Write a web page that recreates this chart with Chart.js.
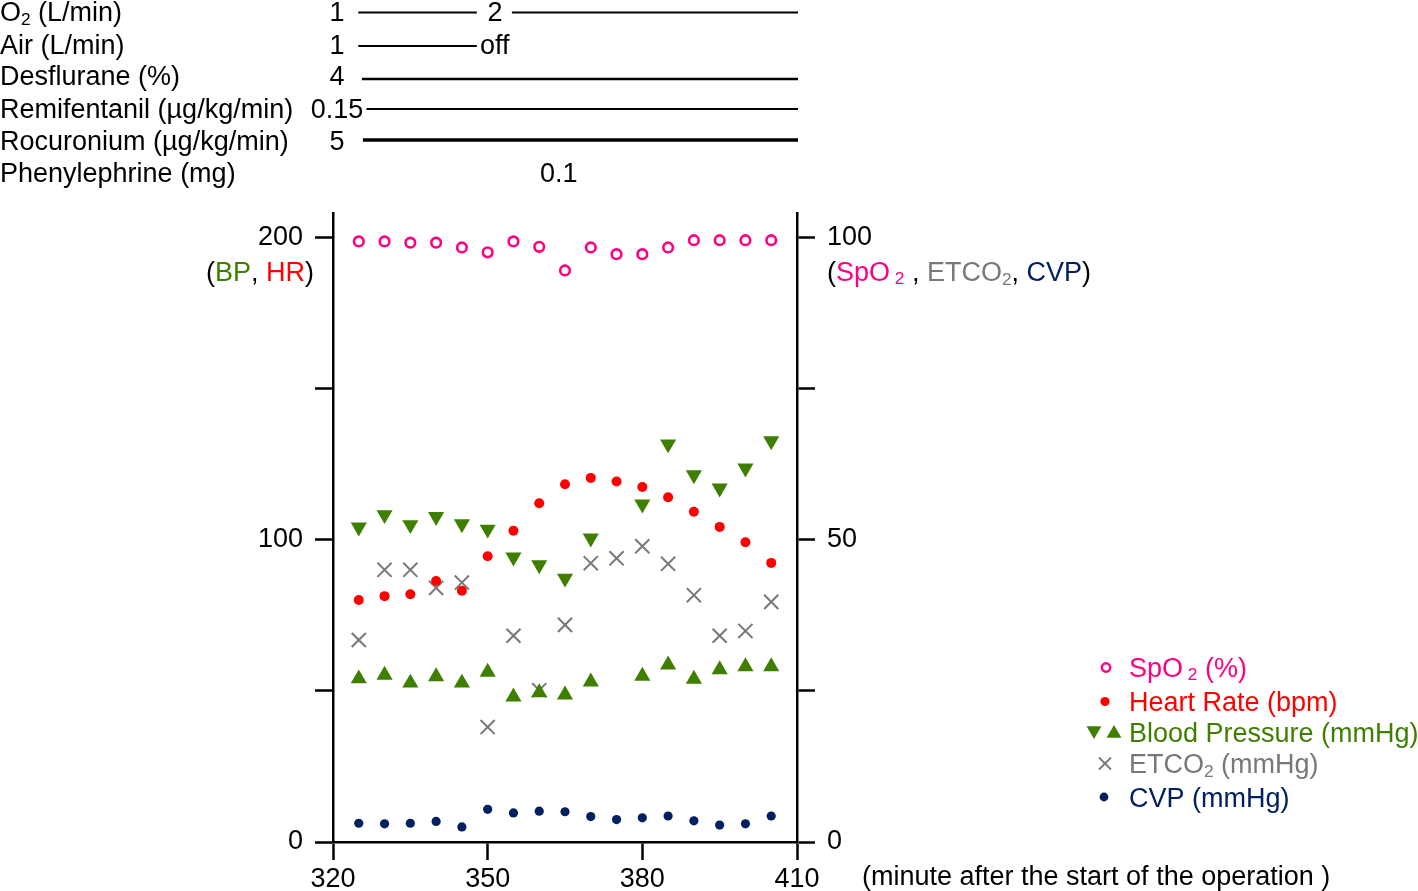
<!DOCTYPE html>
<html>
<head>
<meta charset="utf-8">
<title>Intraoperative vital signs</title>
<script src="https://cdn.jsdelivr.net/npm/chart.js@4.4.0/dist/chart.umd.min.js"></script>
<style>
  html, body { margin: 0; padding: 0; background: #fff; }
  #wrap { position: relative; width: 1418px; height: 891px; }
</style>
</head>
<body>
<div id="wrap"><canvas id="vitalChart"></canvas></div>
<script>
// minutes after the start of the operation
const minutes = [325, 330, 335, 340, 345, 350, 355, 360, 365, 370, 375, 380, 385, 390, 395, 400, 405];

// left axis (BP, HR)
const heartRate = [80.0, 81.3, 81.9, 86.3, 83.1, 94.5, 102.9, 112.0, 118.3, 120.4, 119.2, 117.4, 114.0, 109.2, 104.2, 99.1, 92.3];
const bpSystolic = [104.1, 108.2, 104.9, 107.6, 105.2, 103.4, 94.2, 91.6, 87.2, 100.5, null, 111.7, 131.6, 121.4, 117.0, 123.6, 132.6];
const bpDiastolic = [54.0, 55.2, 52.6, 54.7, 52.6, 56.2, 48.0, 49.4, 48.7, 53.0, null, 54.9, 58.6, 53.9, 57.0, 58.0, 58.0];

// right axis (SpO2, ETCO2, CVP)
const spo2 = [99.3, 99.3, 99.1, 99.1, 98.3, 97.5, 99.3, 98.4, 94.5, 98.3, 97.2, 97.2, 98.3, 99.5, 99.5, 99.5, 99.5];
const etco2 = [33.4, 45.0, 45.0, 42.0, 42.9, 19.0, 34.1, 25.1, 35.9, 46.1, 46.9, 48.9, 46.0, 40.8, 34.1, 34.9, 39.7];
const cvp = [3.1, 3.0, 3.1, 3.4, 2.5, 5.4, 4.8, 5.1, 5.0, 4.2, 3.7, 4.0, 4.3, 3.5, 2.8, 3.0, 4.3];

// ticks
const xTicks = [320, 350, 380, 410];
const leftTicks = [0, 50, 100, 150, 200];
const leftTickLabels = ['0', '', '100', '', '200'];
const rightTicks = [0, 25, 50, 75, 100];
const rightTickLabels = ['0', '', '50', '', '100'];

// drug rows above the chart ("_2" = subscript 2)
const drugNames = ['O_2 (L/min)', 'Air (L/min)', 'Desflurane (%)', 'Remifentanil (\u00b5g/kg/min)', 'Rocuronium (\u00b5g/kg/min)', 'Phenylephrine (mg)'];
const drugStartDose = ['1', '1', '4', '0.15', '5', ''];
const drugSegments = [
  [[324.9, 347.9], [354.7, 410.2]],
  [[324.9, 347.9]],
  [[325.6, 410.2]],
  [[326.5, 410.2]],
  [[325.8, 410.2]],
  []
];
const drugChanges = [[351.4, '2'], [348.5, 'off'], null, null, null, [363.8, '0.1']];

const legendLabels = ['SpO_ 2 (%)', 'Heart Rate (bpm)', 'Blood Pressure (mmHg)', 'ETCO_2 (mmHg)', 'CVP (mmHg)'];
const xTitle = '(minute after the start of the operation )';

const FONT = "'Liberation Sans', Arial, Helvetica, sans-serif";
const SIZE = 27;
const BLACK = '#000000';
const PINK = '#ff0080';
const RED = '#ff0000';
const GREEN = '#3f7f00';
const GRAY = '#787878';
const NAVY = '#002060';

Chart.defaults.font.family = FONT;
Chart.defaults.font.size = SIZE;
Chart.defaults.color = BLACK;

function pts(ys) {
  return minutes.map((m, i) => ({ x: m, y: ys[i] })).filter(p => p.y !== null);
}

// split "ETCO_2 (mmHg)" into normal / subscript pieces
function partsOf(str, color) {
  const out = [];
  str.split(/(_ ?\d)/).forEach(s => {
    if (!s) return;
    if (s[0] === '_') out.push({ t: s.slice(1), c: color, sub: true, drop: s[1] === ' ' ? 2.5 : 4 });
    else out.push({ t: s, c: color });
  });
  return out;
}

function drawParts(ctx, parts, x, y, align) {
  let w = 0;
  parts.forEach(p => {
    ctx.font = (p.sub ? SIZE * 0.64 : SIZE) + 'px ' + FONT;
    p.w = ctx.measureText(p.t).width;
    w += p.w;
  });
  if (align === 'right') x -= w;
  if (align === 'center') x -= w / 2;
  ctx.textAlign = 'left';
  ctx.textBaseline = 'alphabetic';
  parts.forEach(p => {
    ctx.font = (p.sub ? SIZE * 0.64 : SIZE) + 'px ' + FONT;
    ctx.fillStyle = p.c;
    ctx.fillText(p.t, x, p.sub ? y + (p.drop || 4) : y);
    x += p.w;
  });
}

const datasets = [
  { label: 'SpO2', data: pts(spo2), yAxisID: 'yR', pointStyle: 'circle', pointRadius: 4.8,
    pointBorderWidth: 2.6, pointBorderColor: PINK, pointBackgroundColor: '#ffffff' },
  { label: 'Heart Rate', data: pts(heartRate), yAxisID: 'yL', pointStyle: 'circle', pointRadius: 5,
    pointBorderWidth: 0, pointBackgroundColor: RED },
  { label: 'Systolic', data: pts(bpSystolic), yAxisID: 'yL', pointStyle: 'triangle', pointRotation: 180,
    pointRadius: 9.3, pointBorderWidth: 0, pointBackgroundColor: GREEN },
  { label: 'Diastolic', data: pts(bpDiastolic), yAxisID: 'yL', pointStyle: 'triangle', pointRotation: 0,
    pointRadius: 9.3, pointBorderWidth: 0, pointBackgroundColor: GREEN },
  { label: 'ETCO2', data: pts(etco2), yAxisID: 'yR', pointStyle: 'crossRot', pointRadius: 10,
    pointBorderWidth: 2, pointBorderColor: GRAY },
  { label: 'CVP', data: pts(cvp), yAxisID: 'yR', pointStyle: 'circle', pointRadius: 4.6,
    pointBorderWidth: 0, pointBackgroundColor: NAVY }
];

// drug rows, axis titles and legend are drawn on the canvas
const extrasPlugin = {
  id: 'extras',
  afterDraw(chart) {
    const ctx = chart.ctx;
    const xs = chart.scales.x;
    const rowBase = [21, 54, 85, 118, 150, 182];
    const lineY = [12.5, 46, 79, 109, 140, 0];
    const lineW = [2, 2, 2.5, 2, 3.3, 0];
    ctx.save();

    drugNames.forEach((name, i) => {
      drawParts(ctx, partsOf(name, BLACK), 0, rowBase[i], 'left');
      if (drugStartDose[i]) drawParts(ctx, [{ t: drugStartDose[i], c: BLACK }], 337, rowBase[i], 'center');
      ctx.strokeStyle = BLACK;
      ctx.lineWidth = lineW[i];
      drugSegments[i].forEach(seg => {
        ctx.beginPath();
        ctx.moveTo(xs.getPixelForValue(seg[0]), lineY[i]);
        ctx.lineTo(xs.getPixelForValue(seg[1]), lineY[i]);
        ctx.stroke();
      });
      const ch = drugChanges[i];
      if (ch) {
        const align = ch[1] === 'off' ? 'left' : 'center';
        drawParts(ctx, [{ t: ch[1], c: BLACK }], xs.getPixelForValue(ch[0]), rowBase[i], align);
      }
    });

    // axis titles
    drawParts(ctx, [{ t: '(', c: BLACK }, { t: 'BP', c: GREEN }, { t: ', ', c: BLACK },
      { t: 'HR', c: RED }, { t: ')', c: BLACK }], 314, 281, 'right');
    drawParts(ctx, [{ t: '(', c: BLACK }, { t: 'SpO', c: PINK }, { t: ' 2', c: PINK, sub: true, drop: 2.5 },
      { t: ' , ', c: BLACK }, { t: 'ETCO', c: GRAY }, { t: '2', c: GRAY, sub: true },
      { t: ', ', c: BLACK }, { t: 'CVP', c: NAVY }, { t: ')', c: BLACK }], 827, 281, 'left');
    drawParts(ctx, [{ t: xTitle, c: BLACK }], 862, 885, 'left');

    // legend
    const legColors = [PINK, RED, GREEN, GRAY, NAVY];
    const legBase = [677, 711, 741.5, 773, 806.5];
    const draw = Chart.helpers.drawPoint;
    legendLabels.forEach((lab, i) => {
      const cy = legBase[i] - 9.5;
      ctx.fillStyle = legColors[i];
      ctx.strokeStyle = legColors[i];
      if (i === 0) {
        ctx.fillStyle = '#ffffff';
        ctx.lineWidth = 2.4;
        draw(ctx, { pointStyle: 'circle', radius: 4.2, borderWidth: 2.4 }, 1106, cy);
      } else if (i === 1) {
        draw(ctx, { pointStyle: 'circle', radius: 4.6, borderWidth: 0 }, 1105, cy);
      } else if (i === 2) {
        draw(ctx, { pointStyle: 'triangle', radius: 8.6, rotation: 180, borderWidth: 0 }, 1094, cy - 1.5);
        draw(ctx, { pointStyle: 'triangle', radius: 8.6, rotation: 0, borderWidth: 0 }, 1114, cy + 1.5);
      } else if (i === 3) {
        ctx.lineWidth = 1.8;
        draw(ctx, { pointStyle: 'crossRot', radius: 8.5, borderWidth: 1.8 }, 1105, cy);
      } else {
        draw(ctx, { pointStyle: 'circle', radius: 4.4, borderWidth: 0 }, 1104, cy);
      }
      drawParts(ctx, partsOf(lab, legColors[i]), 1129, legBase[i], 'left');
    });
    ctx.restore();
  }
};

new Chart(document.getElementById('vitalChart'), {
  type: 'scatter',
  data: { datasets: datasets },
  options: {
    responsive: true,
    maintainAspectRatio: false,
    animation: false,
    layout: { padding: { top: 213, left: 0, right: 0, bottom: 0 } },
    plugins: { legend: { display: false }, tooltip: { enabled: false } },
    scales: {
      x: {
        type: 'linear', position: 'bottom', min: 320, max: 410,
        afterFit: s => { s.height = 49; },
        afterBuildTicks: s => { s.ticks = xTicks.map(v => ({ value: v })); },
        ticks: { color: BLACK, padding: 3, maxRotation: 0, autoSkip: false, callback: v => String(v) },
        grid: { drawOnChartArea: false, drawTicks: true, tickLength: 18, tickWidth: 2.5, tickColor: BLACK },
        border: { display: true, color: BLACK, width: 2.5 }
      },
      yL: {
        type: 'linear', position: 'left', min: 0, max: 208,
        afterFit: s => { s.width = 333; },
        afterBuildTicks: s => { s.ticks = leftTicks.map(v => ({ value: v })); },
        ticks: { color: BLACK, padding: 12, callback: v => leftTickLabels[leftTicks.indexOf(v)] },
        grid: { drawOnChartArea: false, drawTicks: true, tickLength: 18, tickWidth: 2.5, tickColor: BLACK },
        border: { display: true, color: BLACK, width: 2.5 }
      },
      yR: {
        type: 'linear', position: 'right', min: 0, max: 104,
        afterFit: s => { s.width = 621; },
        afterBuildTicks: s => { s.ticks = rightTicks.map(v => ({ value: v })); },
        ticks: { color: BLACK, padding: 12, callback: v => rightTickLabels[rightTicks.indexOf(v)] },
        grid: { drawOnChartArea: false, drawTicks: true, tickLength: 18, tickWidth: 2.5, tickColor: BLACK },
        border: { display: true, color: BLACK, width: 2.5 }
      }
    }
  },
  plugins: [extrasPlugin]
});
</script>
</body>
</html>
